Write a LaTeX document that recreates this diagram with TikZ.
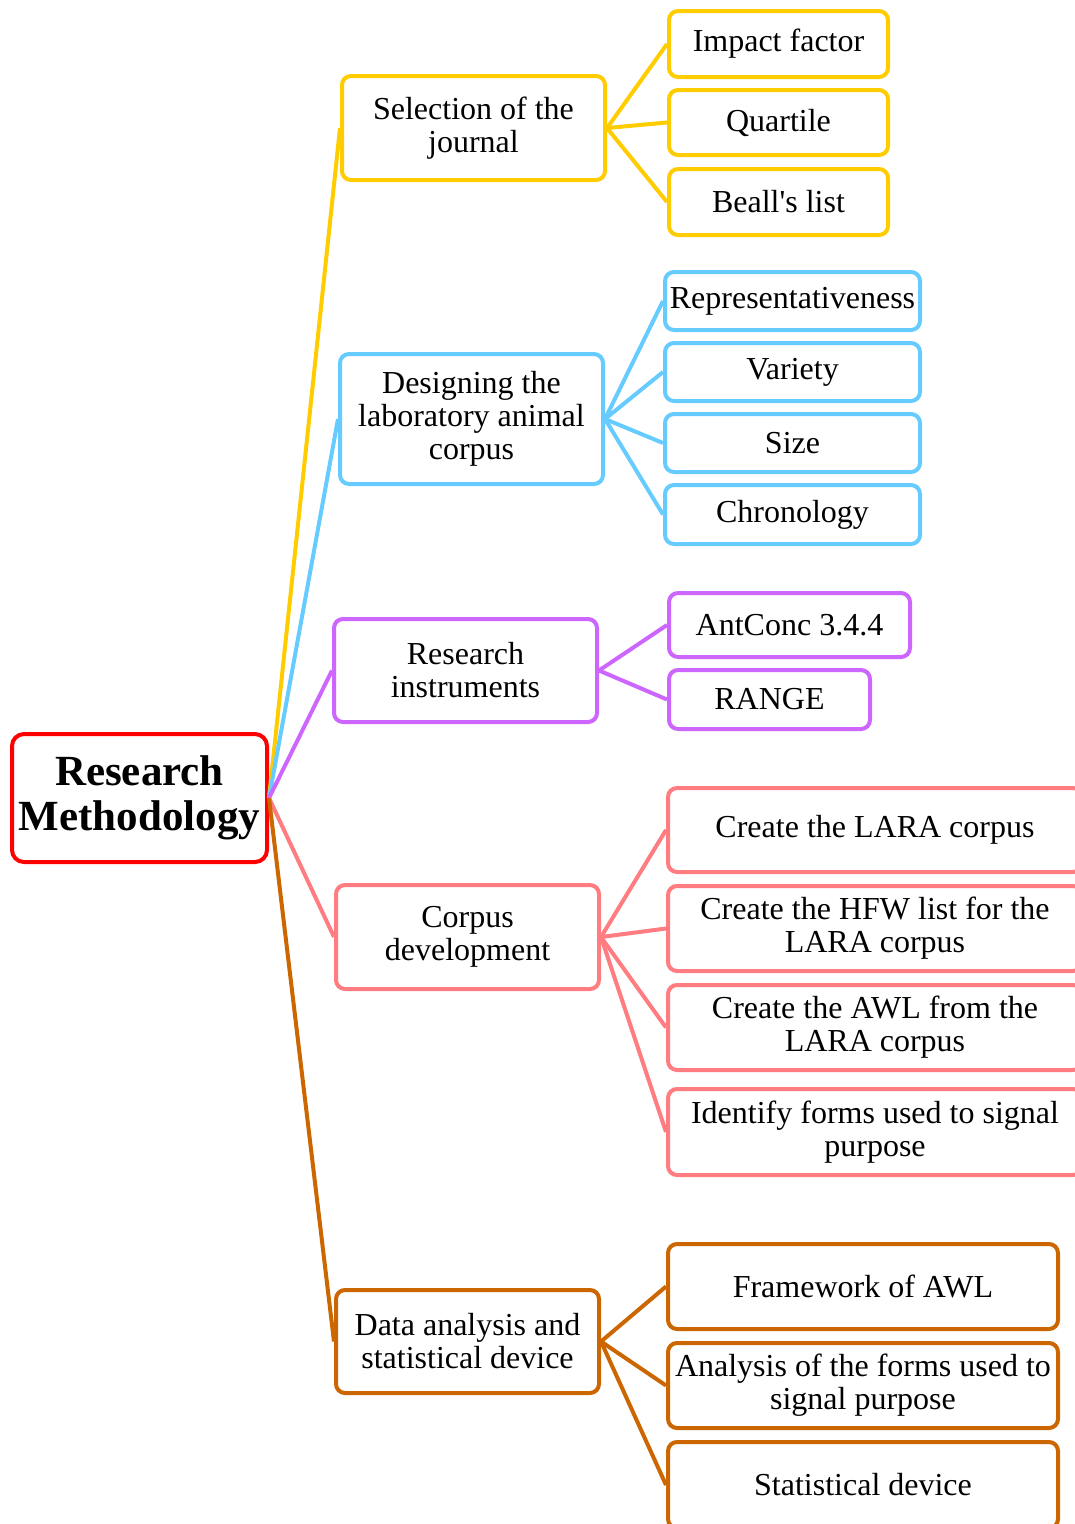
\documentclass[tikz,border=0pt]{standalone}
\usepackage{fontspec}
\setmainfont{Liberation Serif}
\begin{document}
\begin{tikzpicture}[x=1pt,y=-1pt,
  box/.style={draw, line width=4pt, rounded corners=9pt, fill=white, align=center,
    inner sep=0pt, font=\fontsize{32}{33}\selectfont},
  link/.style={line width=4pt},
  cYel/.style={draw=yelc}, cBlu/.style={draw=bluc}, cPur/.style={draw=purc},
  cPin/.style={draw=pinkc}, cOra/.style={draw=orac}]
\definecolor{yelc}{HTML}{FFCC00}
\definecolor{bluc}{HTML}{66CCFF}
\definecolor{purc}{HTML}{CC66FF}
\definecolor{pinkc}{HTML}{FF7C80}
\definecolor{orac}{HTML}{CC6600}
\definecolor{rootred}{HTML}{FF0000}
\useasboundingbox (0,0) rectangle (1075,1524);

% root
\node[box, draw=rootred, minimum width=255, minimum height=128, rounded corners=12pt,
  font=\fontsize{43}{45}\selectfont\bfseries] (root) at (139.5,798) {Research\\Methodology};

% first level
\node[box, cYel, minimum width=263, minimum height=104] (sel) at (473.5,128) {Selection of the\\journal};
\node[box, cBlu, minimum width=263, minimum height=130] (des) at (471.5,419) {Designing the\\laboratory animal\\corpus};
\node[box, cPur, minimum width=263, minimum height=103] (ins) at (465.5,670.5) {Research\\instruments};
\node[box, cPin, minimum width=263, minimum height=104] (cor) at (467.5,937) {Corpus\\development};
\node[box, cOra, minimum width=263, minimum height=103] (dat) at (467.5,1341.5) {Data analysis and\\statistical device};

% journal selection
\node[box, cYel, minimum width=219, minimum height=66] (imp) at (778.5,44) {Impact factor};
\node[box, cYel, minimum width=219, minimum height=65] (qua) at (778.5,122.5) {Quartile};
\node[box, cYel, minimum width=219, minimum height=66] (bea) at (778.5,202) {Beall\textquotesingle s list};

% corpus design
\node[box, cBlu, minimum width=255, minimum height=58] (rep) at (792.5,301) {Representativeness};
\node[box, cBlu, minimum width=255, minimum height=58] (var) at (792.5,372) {Variety};
\node[box, cBlu, minimum width=255, minimum height=58] (siz) at (792.5,443) {Size};
\node[box, cBlu, minimum width=255, minimum height=59] (chr) at (792.5,514.5) {Chronology};

% instruments
\node[box, cPur, minimum width=241, minimum height=64] (ant) at (789.5,625) {AntConc 3.4.4};
\node[box, cPur, minimum width=201, minimum height=59] (ran) at (769.5,699.5) {RANGE};

% corpus development
\node[box, cPin, minimum width=414, minimum height=84] (lar) at (875,830) {Create the LARA corpus};
\node[box, cPin, minimum width=414, minimum height=85] (hfw) at (875,928.5) {Create the HFW list for the\\LARA corpus};
\node[box, cPin, minimum width=414, minimum height=85] (awl) at (875,1027.5) {Create the AWL from the\\LARA corpus};
\node[box, cPin, minimum width=414, minimum height=86] (ide) at (875,1132) {Identify forms used to signal\\purpose};

% data analysis
\node[box, cOra, minimum width=390, minimum height=85] (fra) at (863,1286.5) {Framework of AWL};
\node[box, cOra, minimum width=390, minimum height=85] (ana) at (863,1385.5) {Analysis of the forms used to\\signal purpose};
\node[box, cOra, minimum width=390, minimum height=86] (sta) at (863,1485) {Statistical device};

% connectors
\begin{scope}[link]
\draw[yelc] (root.east) -- (sel.west);
\draw[bluc] (root.east) -- (des.west);
\draw[purc] (root.east) -- (ins.west);
\draw[pinkc] (root.east) -- (cor.west);
\draw[orac] (root.east) -- (dat.west);
\foreach \c in {imp,qua,bea} \draw[yelc] (sel.east) -- (\c.west);
\foreach \c in {rep,var,siz,chr} \draw[bluc] (des.east) -- (\c.west);
\foreach \c in {ant,ran} \draw[purc] (ins.east) -- (\c.west);
\foreach \c in {lar,hfw,awl,ide} \draw[pinkc] (cor.east) -- (\c.west);
\foreach \c in {fra,ana,sta} \draw[orac] (dat.east) -- (\c.west);
\end{scope}
\end{tikzpicture}
\end{document}
